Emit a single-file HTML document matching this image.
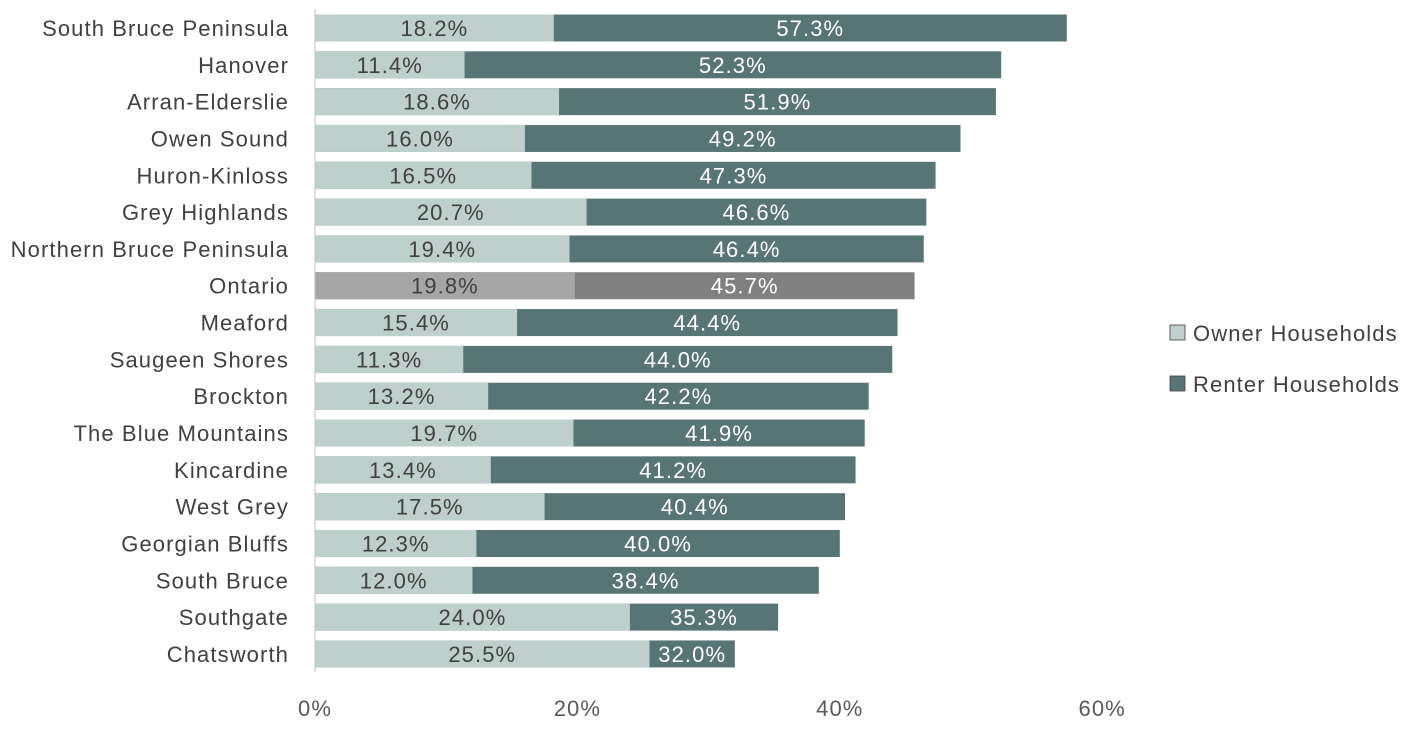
<!DOCTYPE html>
<html><head><meta charset="utf-8"><style>
body{margin:0;background:#fff;width:1408px;height:726px;overflow:hidden}
svg text{font-family:"Liberation Sans",sans-serif;font-size:22px;letter-spacing:1.1px}
</style></head><body>
<svg id="chart" width="1408" height="726"></svg>
<script>
const categories=["South Bruce Peninsula","Hanover","Arran-Elderslie","Owen Sound","Huron-Kinloss","Grey Highlands","Northern Bruce Peninsula","Ontario","Meaford","Saugeen Shores","Brockton","The Blue Mountains","Kincardine","West Grey","Georgian Bluffs","South Bruce","Southgate","Chatsworth"];
const ownerValues=[18.2,11.4,18.6,16.0,16.5,20.7,19.4,19.8,15.4,11.3,13.2,19.7,13.4,17.5,12.3,12.0,24.0,25.5];
const renterValues=[57.3,52.3,51.9,49.2,47.3,46.6,46.4,45.7,44.4,44.0,42.2,41.9,41.2,40.4,40.0,38.4,35.3,32.0];
const tickValues=[0,20,40,60];
const tickLabels=["0%","20%","40%","60%"];

const svg=document.getElementById('chart');
const NS="http://www.w3.org/2000/svg";
const x0=315,pxPer=13.12,yTop=28,step=36.82,bh=27;
const xs=v=>x0+v*pxPer;
const ys=i=>yTop+i*step;
function mk(tag,attrs,text){const e=document.createElementNS(NS,tag);for(const k in attrs)e.setAttribute(k,attrs[k]);if(text!==undefined)e.textContent=text;svg.appendChild(e);return e;}

categories.forEach((c,i)=>{
  const cy=ys(i);
  const ont=c==="Ontario";
  const r=mk('rect',{x:xs(0),y:cy-bh/2,width:xs(renterValues[i])-xs(0),height:bh,fill:ont?'#808080':'#587575'});
  
  
  const o=mk('rect',{x:xs(0),y:cy-bh/2,width:xs(ownerValues[i])-xs(0),height:bh,fill:ont?'#a6a6a6':'#bfcfcc'});
  
  
  const lo=mk('text',{x:(xs(0)+xs(ownerValues[i]))/2,y:cy+8,'text-anchor':'middle',fill:'#404040'},ownerValues[i].toFixed(1)+'%');
  
  
  const lr=mk('text',{x:(xs(ownerValues[i])+xs(renterValues[i]))/2,y:cy+8,'text-anchor':'middle',fill:'#fff'},renterValues[i].toFixed(1)+'%');
  
  
  const cl=mk('text',{x:289,y:cy+8,'text-anchor':'end',fill:'#404040'},c);
  
  
});
const ax=mk('line',{x1:x0,x2:x0,y1:9,y2:672,stroke:'#bfbfbf','stroke-width':1});


tickValues.forEach((t,i)=>{
  const tl=mk('text',{x:xs(t),y:716,'text-anchor':'middle',fill:'#595959'},tickLabels[i]);
  
  
});
const legend=[["Owner Households","#bfcfcc",333],["Renter Households","#587575",384]];
legend.forEach(l=>{
  const s=mk('rect',{x:1170,y:l[2]-8,width:15,height:15,fill:l[1],stroke:'#404040','stroke-width':0.8});
  
  
  const t=mk('text',{x:1193,y:l[2]+8,fill:'#404040'},l[0]);
  
  
});
</script>
</body></html>
